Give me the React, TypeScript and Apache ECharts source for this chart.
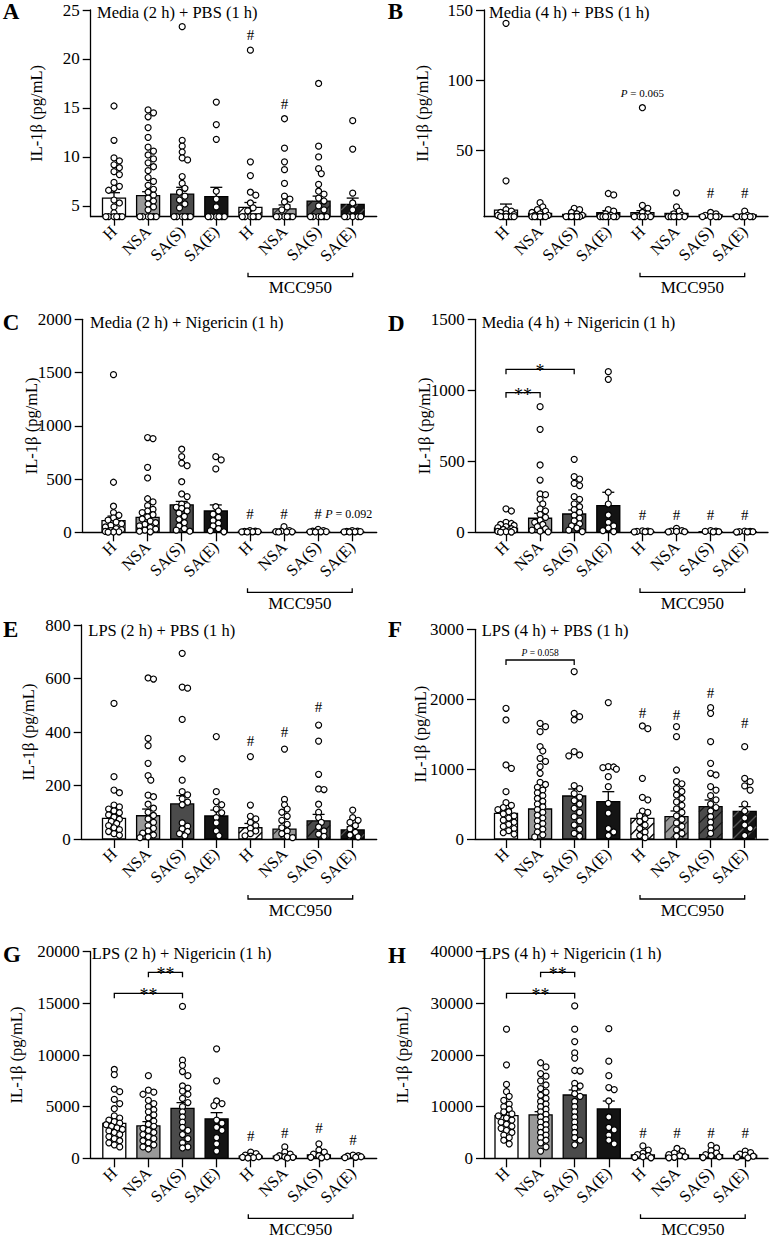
import React, { useEffect, useRef } from "react";
import * as echarts from "echarts";

const FONT = "'Liberation Serif', 'Times New Roman', serif";

const categories = ["H", "NSA", "SA(S)", "SA(E)", "H", "NSA", "SA(S)", "SA(E)"];
const groupLabel = "MCC950";
const yAxisName = "IL-1β (pg/mL)";
const letters = ["A", "B", "C", "D", "E", "F", "G", "H"];
const titles = [
  "Media (2 h) + PBS (1 h)",
  "Media (4 h) + PBS (1 h)",
  "Media (2 h) + Nigericin (1 h)",
  "Media (4 h) + Nigericin (1 h)",
  "LPS (2 h) + PBS (1 h)",
  "LPS (4 h) + PBS (1 h)",
  "LPS (2 h) + Nigericin (1 h)",
  "LPS (4 h) + Nigericin (1 h)",
];

// ---------- Panel A ----------
const aRange = [3.9, 25];
const aTicks = [5, 10, 15, 20, 25];
const aMeans = [5.8, 6.05, 6.2, 5.95, 4.85, 4.7, 5.5, 5.15];
const aSems = [0.55, 0.4, 0.7, 0.95, 0.5, 0.4, 0.5, 0.65];
const aPoints = [
  [15.2, 11.7, 9.9, 9.6, 9.2, 8.9, 8.5, 8.2, 7.4, 7.0, 6.8, 6.6, 5.6, 5.3, 4.9, 4.3, 3.9, 3.9, 3.9, 3.9, 3.9, 3.9],
  [14.8, 14.5, 14.1, 13.0, 12.0, 11.0, 10.6, 10.2, 9.8, 9.4, 9.0, 8.6, 7.9, 7.5, 7.1, 6.7, 6.4, 6.1, 5.8, 5.5, 5.2, 4.9, 4.6, 3.9, 3.9, 3.9, 3.9, 3.9, 3.9],
  [23.3, 11.7, 11.1, 10.5, 9.9, 9.7, 8.0, 7.3, 6.8, 6.4, 6.0, 5.6, 5.2, 4.8, 3.9, 3.9, 3.9, 3.9, 3.9, 3.9],
  [15.6, 13.3, 11.8, 6.5, 5.7, 4.9, 3.9, 3.9, 3.9, 3.9, 3.9, 3.9],
  [20.9, 9.5, 8.1, 6.4, 6.1, 5.3, 4.8, 4.5, 3.9, 3.9, 3.9, 3.9, 3.9, 3.9],
  [13.9, 10.9, 9.5, 8.7, 7.3, 6.0, 5.7, 5.4, 4.9, 4.6, 3.9, 3.9, 3.9, 3.9, 3.9, 3.9],
  [17.5, 11.1, 10.0, 8.8, 8.3, 7.2, 6.5, 6.2, 5.8, 5.5, 5.0, 4.6, 3.9, 3.9, 3.9, 3.9, 3.9, 3.9],
  [13.7, 10.8, 6.3, 5.3, 4.6, 3.9, 3.9, 3.9, 3.9, 3.9],
];
const aHash = [[4, 22.4], [5, 15.4]];
const aBrackets: any[] = [];
const aNotes: any[] = [];

// ---------- Panel B ----------
const bRange = [3, 150];
const bTicks = [50, 100, 150];
const bMeans = [7.7, 5.4, 4.7, 5.8, 5.8, 5.4, 4.2, 4.2];
const bSems = [4.3, 1.1, 0.6, 1.5, 1.5, 1.0, 0.4, 0.5];
const bPoints = [
  [140.5, 28.5, 8, 7, 6, 5, 4.5, 4, 3, 3, 3, 3, 3, 3],
  [13, 10, 8, 7, 6, 5, 4, 4, 3, 3, 3, 3, 3, 3],
  [9, 8, 6, 5, 4, 3, 3, 3, 3, 3, 3],
  [19.5, 18.5, 8, 7, 5, 4, 3, 3, 3, 3, 3, 3],
  [80.5, 11, 9, 6, 5, 3, 3, 3, 3, 3],
  [20, 10, 7, 5, 4, 3, 3, 3, 3, 3, 3],
  [6, 5, 4, 3, 3, 3, 3],
  [7, 4, 3, 3, 3, 3, 3],
];
const bHash = [[6, 19.5], [7, 19.5]];
const bBrackets: any[] = [];
const bNotes = [[4, 91, "0.065"]];

// ---------- Panel C ----------
const cRange = [0, 2000];
const cTicks = [0, 500, 1000, 1500, 2000];
const cMeans = [110, 141, 257, 200, 8, 10, 8, 6];
const cSems = [42, 37, 33, 57, 3, 4, 3, 2];
const cPoints = [
  [1480, 470, 245, 185, 160, 135, 115, 95, 80, 65, 50, 35, 25, 15, 8, 5, 3, 2],
  [890, 880, 610, 510, 315, 285, 250, 215, 200, 185, 165, 145, 125, 105, 90, 75, 60, 45, 30, 20, 10, 5],
  [780, 710, 650, 625, 475, 360, 335, 265, 250, 235, 225, 200, 180, 150, 120, 90, 60, 35, 20, 10],
  [710, 680, 595, 240, 200, 170, 140, 110, 85, 60, 35, 15, 5],
  [15, 10, 8, 6, 5, 4, 3],
  [53, 15, 10, 6, 5, 4, 3],
  [28, 15, 10, 6, 5, 4, 3],
  [15, 10, 8, 6, 5, 4, 3],
];
const cHash = [[4, 172], [5, 172], [6, 172]];
const cBrackets: any[] = [];
const cNotes = [[6.9, 172, "0.092"]];

// ---------- Panel D ----------
const dRange = [0, 1500];
const dTicks = [0, 500, 1000, 1500];
const dMeans = [30, 99, 129, 188, 5, 6, 4, 4];
const dSems = [18, 35, 28, 94, 2, 3, 2, 2];
const dPoints = [
  [165, 150, 70, 62, 55, 48, 40, 33, 25, 20, 15, 10, 6, 4, 2, 1],
  [885, 725, 474, 368, 270, 265, 232, 200, 165, 150, 125, 105, 85, 70, 55, 40, 25, 15, 8, 3],
  [514, 392, 375, 345, 329, 251, 232, 200, 180, 160, 140, 120, 100, 80, 60, 45, 30, 15, 5],
  [1131, 1077, 282, 199, 122, 70, 45, 30, 12, 5],
  [10, 8, 6, 5, 4, 3],
  [28, 12, 8, 6, 4, 3],
  [12, 8, 6, 4, 3],
  [8, 6, 5, 4, 3, 2],
];
const dHash = [[4, 122], [5, 122], [6, 122], [7, 122]];
const dBrackets = [[0, 1, 983, "**"], [0, 2, 1148, "*"]];
const dNotes: any[] = [];

// ---------- Panel E ----------
const eRange = [0, 800];
const eTicks = [0, 200, 400, 600, 800];
const eMeans = [77, 87, 131, 86, 42, 37, 68, 34];
const eSems = [13, 25, 31, 22, 16, 12, 24, 12];
const ePoints = [
  [507, 233, 183, 173, 127, 120, 112, 105, 98, 90, 82, 74, 66, 58, 50, 42, 35, 28, 20, 14],
  [602, 598, 376, 349, 283, 237, 220, 164, 158, 130, 115, 100, 88, 75, 62, 50, 40, 30, 22, 15, 8, 5],
  [694, 568, 564, 447, 300, 220, 177, 165, 150, 138, 128, 60, 48, 38, 28, 20, 12],
  [383, 177, 140, 128, 112, 98, 80, 60, 30, 12],
  [308, 127, 85, 75, 62, 50, 40, 30, 20, 12],
  [336, 148, 128, 112, 100, 85, 70, 55, 42, 30, 20, 10, 5],
  [426, 366, 242, 187, 185, 130, 100, 80, 62, 45, 30, 18, 10],
  [108, 80, 70, 62, 50, 38, 25, 15, 8],
];
const eHash = [[4, 368], [5, 399], [6, 495]];
const eBrackets: any[] = [];
const eNotes: any[] = [];

// ---------- Panel F ----------
const fRange = [0, 3000];
const fTicks = [0, 1000, 2000, 3000];
const fMeans = [367, 429, 615, 534, 296, 320, 463, 396];
const fSems = [62, 72, 100, 143, 62, 81, 95, 67];
const fPoints = [
  [1870, 1703, 1059, 1011, 677, 520, 480, 450, 420, 390, 360, 330, 300, 270, 240, 210, 180, 150, 120, 90, 70],
  [1655, 1607, 1536, 1321, 1259, 1154, 1110, 1035, 940, 811, 780, 740, 700, 660, 620, 580, 540, 500, 460, 420, 380, 340, 300, 260, 220, 180, 140, 100, 60, 30],
  [2394, 1798, 1750, 1703, 1250, 1202, 1190, 763, 720, 650, 600, 550, 500, 440, 380, 320, 260, 200, 140, 80, 40],
  [1951, 1035, 1030, 1020, 1000, 892, 749, 510, 370, 150, 100, 50],
  [1617, 1578, 868, 596, 560, 400, 380, 330, 290, 250, 200, 150, 100, 50, 20],
  [1607, 1464, 987, 820, 790, 720, 680, 630, 580, 530, 480, 430, 380, 330, 280, 230, 180, 130, 80, 40],
  [1879, 1798, 1393, 1083, 940, 916, 750, 700, 620, 560, 500, 450, 400, 320, 240, 160, 80],
  [1321, 868, 820, 760, 700, 500, 400, 300, 200, 150, 50],
];
const fHash = [[4, 1798], [5, 1780], [6, 2084], [7, 1655]];
const fBrackets = [[0, 2, 2561, "0.058"]];
const fNotes: any[] = [];

// ---------- Panel G ----------
const gRange = [0, 20000];
const gTicks = [0, 5000, 10000, 15000, 20000];
const gMeans = [3390, 3130, 4840, 3810, 200, 220, 330, 150];
const gSems = [320, 420, 550, 610, 80, 80, 120, 50];
const gPoints = [
  [8600, 8100, 6700, 6450, 5700, 5300, 4800, 4100, 3900, 3700, 3550, 3400, 3250, 3100, 2950, 2800, 2650, 2500, 2300, 2100, 1900, 1700, 1500, 1300, 1100],
  [8000, 6600, 6400, 6200, 5600, 5300, 5000, 4700, 4500, 4200, 3900, 3600, 3300, 3100, 2900, 2700, 2500, 2300, 2100, 1900, 1700, 1500, 1300, 1100, 900],
  [14700, 9500, 9000, 8400, 8000, 7000, 6800, 6500, 6200, 5800, 5400, 5000, 4500, 4000, 3500, 3000, 2700, 2300, 1900, 1500, 1100, 1000],
  [10600, 7500, 5550, 5300, 5100, 3700, 3400, 3000, 2700, 2000, 1400, 700],
  [600, 450, 300, 200, 150, 100, 60, 30],
  [1100, 600, 400, 250, 150, 100, 60, 30],
  [1400, 800, 600, 400, 250, 150, 100, 50],
  [300, 250, 200, 150, 100, 60],
];
const gHash = [[4, 2200], [5, 2420], [6, 2900], [7, 1770]];
const gBrackets = [[1, 2, 18000, "**"], [0, 2, 15970, "**"]];
const gNotes: any[] = [];

// ---------- Panel H ----------
const hRange = [0, 40000];
const hTicks = [0, 10000, 20000, 30000, 40000];
const hMeans = [8260, 8390, 12260, 9550, 650, 600, 700, 550];
const hSems = [640, 640, 970, 1540, 150, 150, 150, 150];
const hPoints = [
  [25000, 18100, 14300, 12900, 12000, 11200, 10500, 10000, 9500, 9000, 8600, 8200, 7800, 7400, 7000, 6600, 6200, 5800, 5400, 5000, 4500, 4000, 3500, 2800],
  [18500, 17700, 16400, 15900, 15000, 14200, 13500, 12800, 12200, 11600, 11000, 10500, 10000, 9500, 9000, 8500, 8000, 7500, 7000, 6500, 6000, 5500, 5000, 4500, 4000, 3500, 3000, 2200, 1400],
  [29500, 25000, 22600, 20400, 19400, 17000, 16900, 14500, 14000, 13500, 12500, 12000, 11000, 10000, 9000, 8000, 7000, 6000, 5000, 4000, 3500, 2600],
  [25100, 18800, 16000, 13700, 13300, 11100, 8000, 6000, 5500, 4500, 3500, 2800],
  [2400, 1600, 1000, 700, 500, 300, 200, 100],
  [1900, 1400, 1000, 700, 500, 300, 200, 100],
  [2500, 2000, 1500, 1000, 700, 500, 300, 150],
  [1400, 1100, 800, 600, 400, 250, 100],
];
const hHash = [[4, 4840], [5, 4840], [6, 4840], [7, 4840]];
const hBrackets = [[1, 2, 36000, "**"], [0, 2, 31930, "**"]];
const hNotes: any[] = [];

const panels = [
  { range: aRange, ticks: aTicks, means: aMeans, sems: aSems, points: aPoints, hash: aHash, brackets: aBrackets, notes: aNotes },
  { range: bRange, ticks: bTicks, means: bMeans, sems: bSems, points: bPoints, hash: bHash, brackets: bBrackets, notes: bNotes },
  { range: cRange, ticks: cTicks, means: cMeans, sems: cSems, points: cPoints, hash: cHash, brackets: cBrackets, notes: cNotes },
  { range: dRange, ticks: dTicks, means: dMeans, sems: dSems, points: dPoints, hash: dHash, brackets: dBrackets, notes: dNotes },
  { range: eRange, ticks: eTicks, means: eMeans, sems: eSems, points: ePoints, hash: eHash, brackets: eBrackets, notes: eNotes },
  { range: fRange, ticks: fTicks, means: fMeans, sems: fSems, points: fPoints, hash: fHash, brackets: fBrackets, notes: fNotes },
  { range: gRange, ticks: gTicks, means: gMeans, sems: gSems, points: gPoints, hash: gHash, brackets: gBrackets, notes: gNotes },
  { range: hRange, ticks: hTicks, means: hMeans, sems: hSems, points: hPoints, hash: hHash, brackets: hBrackets, notes: hNotes },
];

// ---------- layout (pixels) ----------
const layouts = [
  { left: 90.7, right: 376.7, top: 10, bottom: 216.7, first: 114, nameGap: 46, lx: 2.7, ly: 11, tx: 97, ty: 12, noteSize: 12 },
  { left: 484, right: 768, top: 10, bottom: 216.7, first: 506, nameGap: 53, lx: 387.7, ly: 11, tx: 489, ty: 12, noteSize: 11 },
  { left: 82.7, right: 376.7, top: 319.3, bottom: 532.3, first: 113.5, nameGap: 43, lx: 2.7, ly: 322.5, tx: 90, ty: 322, noteSize: 12 },
  { left: 475.7, right: 768, top: 319.3, bottom: 532.3, first: 506, nameGap: 43, lx: 388, ly: 323.5, tx: 481.7, ty: 322, noteSize: 12 },
  { left: 81.7, right: 376.7, top: 625, bottom: 839, first: 114, nameGap: 45, lx: 3, ly: 629.5, tx: 88.3, ty: 630, noteSize: 12 },
  { left: 475, right: 768, top: 629.3, bottom: 839, first: 506, nameGap: 46.5, lx: 388, ly: 629.5, tx: 481.7, ty: 630, noteSize: 9.5 },
  { left: 90.7, right: 376.7, top: 951.7, bottom: 1158.3, first: 114.3, nameGap: 66, lx: 3, ly: 954.5, tx: 91.7, ty: 953, noteSize: 12 },
  { left: 484, right: 768, top: 951.7, bottom: 1158.3, first: 506.5, nameGap: 73.5, lx: 388, ly: 955, tx: 481.7, ty: 953, noteSize: 12 },
];
const SPACING = 34.1;
const BAR_HALF = 11.5;
const HATCH = 11;
const barFill = ["#ffffff", "#999999", "#4b4b4b", "#141414"];
const hatchColor = ["#000000", "#2a2a2a", "#161616", "#555555"];

function swarm(vals: number[], ppu: number): number[] {
  const placed: [number, number][] = [];
  const cands: number[] = [0];
  for (let k = 1; k <= 3; k++) cands.push(k * 2.7, -k * 2.7);
  return vals.map((v) => {
    const y = v * ppu;
    let best = 0;
    let bestD = -1;
    for (const c of cands) {
      let dmin = Infinity;
      for (const [px, py] of placed) {
        const d = Math.hypot(px - c, py - y);
        if (d < dmin) dmin = d;
      }
      if (dmin >= 5) {
        best = c;
        bestD = dmin;
        break;
      }
      if (dmin > bestD) {
        bestD = dmin;
        best = c;
      }
    }
    placed.push([best, y]);
    return best / SPACING;
  });
}

function fontStr(size: number, weight = "normal", style = "normal") {
  return `${style} ${weight} ${size}px ${FONT}`;
}

function txt(x: number, y: number, text: string, size: number, align: string, valign: string, weight = "normal") {
  return {
    type: "text",
    x,
    y,
    style: {
      text,
      font: fontStr(size, weight),
      fontFamily: FONT,
      fontSize: size,
      fontWeight: weight,
      fill: "#000",
      align,
      textAlign: align,
      verticalAlign: valign,
      textVerticalAlign: valign,
    },
  };
}

function pRich(value: string, size: number) {
  return {
    text: "{i|P}{n| = " + value + "}",
    rich: {
      i: { font: fontStr(size, "normal", "italic"), fontStyle: "italic", fontFamily: FONT, fontSize: size, fill: "#000" },
      n: { font: fontStr(size), fontFamily: FONT, fontSize: size, fill: "#000" },
    },
  };
}

function buildOption() {
  const grid: any[] = [];
  const xAxis: any[] = [];
  const yAxis: any[] = [];
  const series: any[] = [];
  const graphic: any[] = [];
  const idx8 = [0, 1, 2, 3, 4, 5, 6, 7];

  panels.forEach((p, i) => {
    const L = layouts[i];
    const yMin = p.range[0];
    grid.push({
      left: L.left,
      top: L.top,
      width: L.right - L.left,
      height: L.bottom - L.top,
      containLabel: false,
      outerBoundsMode: "none",
    });
    xAxis.push({
      type: "value",
      gridIndex: i,
      min: (L.left - L.first) / SPACING,
      max: (L.right - L.first) / SPACING,
      splitLine: { show: false },
      axisLine: { show: true, onZero: false, lineStyle: { color: "#000", width: 1.3 } },
      axisTick: { show: true, customValues: idx8, length: 9, lineStyle: { color: "#000", width: 1.3 } },
      axisLabel: {
        show: true,
        customValues: idx8,
        formatter: (v: number) => categories[Math.round(v)] || "",
        rotate: 45,
        margin: 12,
        fontFamily: FONT,
        fontSize: 16.5,
        color: "#000",
      },
    });
    yAxis.push({
      type: "value",
      gridIndex: i,
      min: p.range[0],
      max: p.range[1],
      splitLine: { show: false },
      axisLine: { show: true, onZero: false, lineStyle: { color: "#000", width: 1.3 } },
      axisTick: { show: true, customValues: p.ticks, length: 8, lineStyle: { color: "#000", width: 1.3 } },
      axisLabel: {
        show: true,
        customValues: p.ticks,
        formatter: (v: number) => String(v),
        margin: 11,
        fontFamily: FONT,
        fontSize: 17,
        color: "#000",
      },
      name: yAxisName,
      nameLocation: "middle",
      nameGap: L.nameGap,
      nameMoveOverlap: false,
      nameTextStyle: { fontFamily: FONT, fontSize: 16.5, color: "#000" },
    });

    // bars + hatch + error bars
    series.push({
      type: "custom",
      xAxisIndex: i,
      yAxisIndex: i,
      z: 2,
      silent: true,
      data: p.means.map((m, k) => [k, m, p.sems[k]]),
      encode: { x: 0, y: 1 },
      renderItem: (params: any, api: any) => {
        const k = api.value(0);
        const m = api.value(1);
        const s = api.value(2);
        const base = api.coord([k, yMin]);
        const top = api.coord([k, m]);
        const err = api.coord([k, m + s]);
        const cx = base[0];
        const x0 = cx - BAR_HALF;
        const x1 = cx + BAR_HALF;
        const yT = top[1];
        const yB = base[1];
        const g = k % 4;
        const children: any[] = [
          {
            type: "rect",
            shape: { x: x0, y: yT, width: x1 - x0, height: Math.max(0, yB - yT) },
            style: { fill: barFill[g], stroke: "#000", lineWidth: 1.3 },
          },
        ];
        if (k >= 4) {
          for (let c = x0 + yT + HATCH / 2; c < x1 + yB; c += HATCH) {
            const xa = Math.max(x0, c - yB);
            const xb = Math.min(x1, c - yT);
            if (xb - xa > 0.8) {
              children.push({
                type: "line",
                shape: { x1: xa, y1: c - xa, x2: xb, y2: c - xb },
                style: { stroke: hatchColor[g], lineWidth: 1.3 },
              });
            }
          }
        }
        children.push({
          type: "line",
          shape: { x1: cx, y1: yT, x2: cx, y2: err[1] },
          style: { stroke: "#000", lineWidth: 1.3 },
        });
        children.push({
          type: "line",
          shape: { x1: cx - 6, y1: err[1], x2: cx + 6, y2: err[1] },
          style: { stroke: "#000", lineWidth: 1.3 },
        });
        return { type: "group", children };
      },
    });

    // points
    const ppu = (L.bottom - L.top) / (p.range[1] - p.range[0]);
    const pts: number[][] = [];
    p.points.forEach((vals, k) => {
      const offs = swarm(vals, ppu);
      vals.forEach((v, j) => pts.push([k + offs[j], v]));
    });
    series.push({
      type: "scatter",
      xAxisIndex: i,
      yAxisIndex: i,
      z: 3,
      silent: true,
      clip: false,
      symbol: "circle",
      symbolSize: 6,
      itemStyle: { color: "#ffffff", borderColor: "#000", borderWidth: 1.2, opacity: 1 },
      data: pts,
    });

    // hash marks
    series.push({
      type: "custom",
      xAxisIndex: i,
      yAxisIndex: i,
      z: 4,
      silent: true,
      data: p.hash,
      encode: { x: 0, y: 1 },
      renderItem: (params: any, api: any) => {
        const c = api.coord([api.value(0), api.value(1)]);
        return txt(c[0], c[1], "#", 15, "center", "middle");
      },
    });

    // significance brackets
    if (p.brackets.length) {
      series.push({
        type: "custom",
        xAxisIndex: i,
        yAxisIndex: i,
        z: 4,
        silent: true,
        data: p.brackets.map((b: any, j: number) => [b[0], b[1], b[2], j]),
        encode: { x: [0, 1], y: 2 },
        renderItem: (params: any, api: any) => {
          const lab = p.brackets[api.value(3)][3];
          const a = api.coord([api.value(0), api.value(2)]);
          const b = api.coord([api.value(1), api.value(2)]);
          const y = a[1];
          const children: any[] = [
            {
              type: "polyline",
              shape: { points: [[a[0], y + 5], [a[0], y], [b[0], y], [b[0], y + 5]] },
              style: { stroke: "#000", fill: "none", lineWidth: 1.3 },
            },
          ];
          const mx = (a[0] + b[0]) / 2;
          if (/^[0-9.]+$/.test(lab)) {
            const t: any = txt(mx, y - 1.5, "", L.noteSize, "center", "bottom");
            Object.assign(t.style, pRich(lab, L.noteSize));
            children.push(t);
          } else {
            children.push(txt(mx, y + 2, lab, 18, "center", "middle"));
          }
          return { type: "group", children };
        },
      });
    }

    // P notes
    if (p.notes.length) {
      series.push({
        type: "custom",
        xAxisIndex: i,
        yAxisIndex: i,
        z: 4,
        silent: true,
        data: p.notes.map((n: any, j: number) => [n[0], n[1], j]),
        encode: { x: 0, y: 1 },
        renderItem: (params: any, api: any) => {
          const c = api.coord([api.value(0), api.value(1)]);
          const t: any = txt(c[0], c[1], "", L.noteSize, "center", "middle");
          Object.assign(t.style, pRich(p.notes[api.value(2)][2], L.noteSize));
          return t;
        },
      });
    }

    // MCC950 group bracket
    series.push({
      type: "custom",
      xAxisIndex: i,
      yAxisIndex: i,
      z: 4,
      silent: true,
      clip: false,
      data: [[3.93, 7.0]],
      encode: { x: [0, 1] },
      renderItem: (params: any, api: any) => {
        const a = api.coord([api.value(0), yMin]);
        const b = api.coord([api.value(1), yMin]);
        const y = a[1] + 60;
        return {
          type: "group",
          children: [
            {
              type: "polyline",
              shape: { points: [[a[0], y - 4], [a[0], y], [b[0], y], [b[0], y - 4]] },
              style: { stroke: "#000", fill: "none", lineWidth: 1.3 },
            },
            txt((a[0] + b[0]) / 2, y + 11, groupLabel, 17, "center", "middle"),
          ],
        };
      },
    });

    graphic.push(txt(L.lx, L.ly, letters[i], 23, "left", "middle", "bold"));
    graphic.push(txt(L.tx, L.ty, titles[i], 16.5, "left", "middle"));
  });

  return {
    animation: false,
    backgroundColor: "#ffffff",
    textStyle: { fontFamily: FONT },
    grid,
    xAxis,
    yAxis,
    series,
    graphic: { elements: graphic },
  };
}

export default function App() {
  const ref = useRef<HTMLDivElement>(null);
  useEffect(() => {
    document.body.style.margin = "0";
    if (!ref.current) return;
    const chart = echarts.init(ref.current, undefined, { renderer: "svg" });
    chart.setOption(buildOption() as any);
    return () => {
      chart.dispose();
    };
  }, []);
  return (
    <div
      ref={ref}
      style={{ position: "absolute", left: 0, top: 0, width: 770, height: 1240, background: "#fff" }}
    />
  );
}
